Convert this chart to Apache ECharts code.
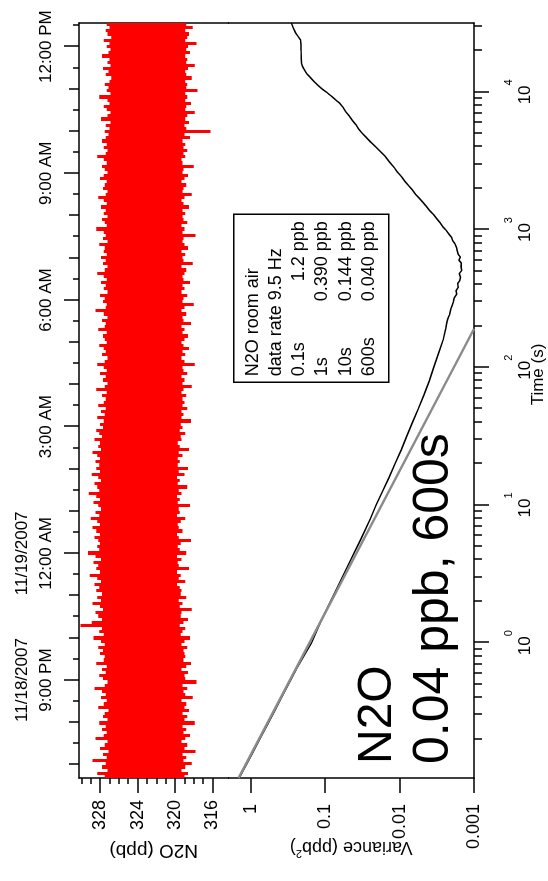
<!DOCTYPE html>
<html>
<head>
<meta charset="utf-8">
<script src="https://cdn.jsdelivr.net/npm/echarts@6/dist/echarts.min.js"></script>
<style>
  html, body { margin: 0; padding: 0; background: #fff; overflow: hidden; width: 548px; height: 881px; }
  /* the landscape figure is turned a quarter turn counter-clockwise onto the portrait page */
  #chart { position: absolute; left: 0; top: 0; width: 881px; height: 548px;
           transform-origin: 0 0; transform: translateY(881px) rotate(-90deg); }
</style>
</head>
<body>
<div id="chart"></div>
<script>
const FONT = 'Liberation Sans, Arial, Helvetica, sans-serif';

// ---- time-of-day axis: hours counted from midnight 11/18/2007 ----
const timeRange = [18.68, 36.56];
const clockTickHours = [21, 24, 27, 30, 33, 36];
const clockTickLabels = ['11/18/2007\n9:00 PM', '11/19/2007\n12:00 AM', '3:00 AM', '6:00 AM', '9:00 AM', '12:00 PM'];

// ---- N2O concentration axis ----
const n2oRange = [314.3, 330.25];
const n2oTickValues = [316, 320, 324, 328];

// ---- Allan variance axes ----
const tauRange = [0.104, 31623];
const tauDecades = [0, 1, 2, 3, 4];
const varianceRange = [0.001, 2];
const varianceDecades = [-3, -2, -1, 0];
const varianceLabels = ['0.001', '0.01', '0.1', '1'];

// ---- N2O record, 9.5 Hz data reduced to per-bin max / min ----
const n2oStartHour = 18.68;
const n2oBinHours = 0.0745;
const n2oMax = [
  327.5, 328.3, 327.2, 327.8, 327.4, 328.8, 327.3, 327.7, 327.1, 328.0, 327.5, 327.2, 328.5, 327.6, 327.3, 327.8, 327.4, 328.1, 327.2, 327.7,
  327.5, 327.1, 328.2, 327.6, 327.3, 327.9, 327.4, 327.8, 328.6, 327.5, 327.2, 327.7, 328.1, 327.4, 327.8, 327.3, 328.4, 327.6, 327.5, 328.0,
  327.7, 328.2, 327.5, 327.9, 328.7, 327.6, 328.1, 327.8, 330.1, 328.9, 327.8, 328.2, 328.5, 327.7, 328.0, 328.8, 327.9, 328.3, 327.8, 328.4,
  328.1, 328.6, 327.9, 328.3, 329.1, 328.0, 328.4, 328.2, 328.7, 327.9, 328.5, 329.3, 328.1, 328.3, 328.0, 328.2, 328.6, 328.0, 328.4, 328.8,
  328.0, 328.3, 329.0, 328.1, 328.5, 327.9, 328.2, 328.7, 328.0, 328.4, 329.2, 328.1, 328.3, 328.6, 327.9, 328.2, 328.9, 328.0, 328.4, 328.1,
  328.5, 328.0, 328.3, 328.8, 327.9, 328.2, 328.0, 328.6, 327.8, 328.1, 328.4, 327.7, 328.0, 327.6, 328.3, 327.5, 327.9, 327.4, 328.2, 327.6,
  327.4, 327.8, 327.3, 328.4, 327.5, 327.2, 327.7, 327.4, 328.0, 327.3, 327.6, 328.3, 327.5, 327.2, 327.8, 327.4, 327.6, 328.1, 327.3, 327.5,
  327.7, 327.3, 328.2, 327.5, 327.4, 327.8, 327.2, 327.6, 328.5, 327.4, 327.3, 327.7, 327.5, 328.0, 327.2, 327.6, 327.4, 327.9, 327.3, 327.6,
  328.3, 327.5, 327.2, 327.7, 327.4, 327.9, 327.3, 327.6, 327.5, 328.1, 327.2, 327.7, 327.4, 327.6, 328.4, 327.3, 327.5, 327.8, 327.2, 327.6,
  327.4, 327.9, 327.3, 327.6, 328.2, 327.4, 327.2, 327.7, 327.5, 327.3, 328.0, 327.6, 327.2, 327.5, 327.8, 327.3, 327.6, 328.3, 327.4, 327.2,
  327.6, 327.3, 327.8, 327.4, 327.1, 327.5, 327.0, 327.4, 326.9, 327.9, 327.2, 326.9, 327.3, 327.6, 327.0, 327.2, 328.1, 326.9, 327.3, 327.1,
  327.5, 327.0, 326.8, 327.4, 327.1, 327.7, 326.9, 327.2, 327.0, 327.8, 327.1, 326.9, 327.3, 327.0, 327.6, 326.8, 327.2, 327.4, 327.0, 327.3
];
const n2oMin = [
  319.0, 318.6, 319.3, 318.9, 318.2, 319.1, 318.8, 319.2, 317.8, 319.0, 318.7, 319.3, 318.9, 318.4, 319.1, 318.8, 319.2, 317.9, 319.0, 318.7,
  319.2, 318.5, 319.0, 318.8, 319.3, 318.1, 318.9, 319.1, 318.7, 319.2, 317.7, 318.9, 319.0, 318.6, 319.3, 318.8, 318.3, 319.1, 318.9, 319.0,
  319.1, 318.7, 319.3, 319.0, 318.4, 319.4, 319.2, 318.9, 319.5, 319.1, 318.6, 319.4, 319.3, 318.2, 319.5, 319.2, 319.6, 318.8, 319.4, 319.3,
  319.5, 319.8, 318.9, 319.6, 319.4, 319.8, 318.5, 319.6, 319.7, 319.3, 319.8, 318.8, 319.5, 319.7, 319.4, 318.3, 319.6, 319.8, 319.2, 319.6,
  319.7, 319.4, 318.9, 319.8, 319.5, 319.6, 318.4, 319.7, 319.5, 319.8, 319.3, 319.6, 318.7, 319.7, 319.5, 319.8, 319.0, 319.6, 318.6, 319.7,
  319.5, 319.7, 319.2, 319.6, 318.5, 319.5, 319.7, 319.3, 319.4, 318.9, 319.5, 319.2, 319.4, 318.3, 319.3, 319.1, 319.3, 318.7, 319.2, 319.0,
  319.2, 318.8, 319.3, 319.1, 318.2, 319.2, 319.0, 319.3, 318.7, 319.1, 319.2, 317.9, 319.0, 319.3, 318.9, 319.2, 318.5, 319.1, 319.3, 319.0,
  318.6, 319.2, 319.0, 319.3, 318.3, 319.1, 319.2, 318.8, 319.3, 319.0, 318.0, 319.2, 319.1, 318.7, 319.3, 319.0, 319.2, 318.4, 319.1, 319.2,
  319.0, 318.8, 319.3, 318.1, 319.1, 319.2, 318.9, 319.3, 318.6, 319.0, 319.2, 319.1, 317.8, 319.2, 319.0, 319.3, 318.7, 319.1, 319.2, 318.9,
  319.2, 318.5, 319.1, 319.3, 319.0, 318.2, 319.2, 319.1, 318.8, 319.3, 319.0, 318.6, 319.2, 319.1, 318.0, 319.2, 319.3, 318.9, 319.1, 318.7,
  319.1, 318.9, 319.2, 318.4, 319.0, 316.2, 318.8, 319.0, 318.5, 318.9, 318.7, 317.9, 318.9, 318.8, 318.3, 318.9, 318.7, 318.9, 317.6, 318.8,
  318.7, 318.9, 318.2, 318.8, 318.9, 318.6, 317.9, 318.8, 318.7, 318.9, 318.4, 318.8, 318.6, 317.7, 318.9, 318.7, 318.5, 318.9, 318.1, 318.8
];

// ---- Allan variance of the record (averaging time in s, variance in ppb^2) ----
const allanTau = [
  0.104, 0.126, 0.158, 0.2, 0.251, 0.316, 0.398, 0.501, 0.631, 0.794,
  1.0, 1.41, 2.0, 2.82, 3.98, 5.62, 7.94, 10, 12.6, 15.8,
  20, 25.1, 31.6, 39.8, 50.1, 63.1, 79.4, 100, 126, 158,
  191, 210, 224, 240, 263, 282, 302, 320, 339, 360,
  380, 405, 427, 450, 479, 505, 537, 570, 600, 630,
  661, 700, 741, 790, 832, 880, 933, 990, 1047, 1120,
  1202, 1290, 1380, 1480, 1585, 1700, 1820, 1950, 2089, 2240,
  2399, 2600, 2818, 3100, 3388, 3680, 3981, 4300, 4677, 5000,
  5370, 5750, 6166, 6700, 7244, 7800, 8318, 8800, 9333, 9900,
  10471, 11100, 11749, 12300, 12882, 13600, 14454, 15300, 16218, 17500,
  19953, 22000, 23768, 25300, 26915, 29000, 31623
];
const allanVar = [
  1.44, 1.18, 0.944, 0.757, 0.605, 0.484, 0.388, 0.310, 0.249, 0.195,
  0.152, 0.1156, 0.0847, 0.0621, 0.0455, 0.0333, 0.0247, 0.0207, 0.0169, 0.0139,
  0.0115, 0.0095, 0.0080, 0.0067, 0.0056, 0.0047, 0.0040, 0.00347, 0.0030, 0.0026,
  0.0024, 0.00232, 0.00225, 0.00214, 0.00206, 0.00196, 0.00188, 0.00184, 0.00171, 0.00174,
  0.00163, 0.00166, 0.00155, 0.00152, 0.00158, 0.00146, 0.00150, 0.00148, 0.00160, 0.00152,
  0.00163, 0.00168, 0.00172, 0.00181, 0.00194, 0.00201, 0.00219, 0.00238, 0.00262, 0.00285,
  0.00318, 0.00352, 0.00398, 0.00440, 0.0049, 0.0055, 0.0062, 0.0068, 0.0076, 0.0085,
  0.0093, 0.0106, 0.0118, 0.0137, 0.0155, 0.0181, 0.0209, 0.0243, 0.0282, 0.0318,
  0.0355, 0.0385, 0.0427, 0.0478, 0.0537, 0.0585, 0.0646, 0.0735, 0.0832, 0.0950,
  0.1096, 0.1240, 0.138, 0.150, 0.162, 0.178, 0.190, 0.202, 0.209, 0.210,
  0.211, 0.212, 0.214, 0.232, 0.251, 0.268, 0.285
];

// ---- white-noise reference line ----
const whiteTau = [0.104, 190];
const whiteVar = [1.46, 0.001];

// ---- annotations ----
const noteRows = [
  ['N2O room air', ''],
  ['data rate 9.5 Hz', ''],
  ['0.1s', '1.2 ppb'],
  ['1s', '0.390 ppb'],
  ['10s', '0.144 ppb'],
  ['600s', '0.040 ppb']
];
const headline = ['N2O', '0.04 ppb, 600s'];

// ---- derived tick lists ----
const halfHourTicks = [], hourTicks = [];
for (let h = 19; h <= 36.5; h += 0.5) {
  if (clockTickHours.indexOf(h) >= 0) continue;
  (Number.isInteger(h) ? hourTicks : halfHourTicks).push(h);
}
const n2oMinorTicks = [];
for (let v = 316; v <= 330; v++) n2oMinorTicks.push(v);
const logTauRange = [Math.log10(tauRange[0]), Math.log10(tauRange[1])];
const tauMinorTicks = [];
for (let k = -1; k <= 4; k++) {
  for (let m = 2; m <= 9; m++) {
    const lv = Math.log10(m) + k;
    if (lv > logTauRange[0] && lv < logTauRange[1]) tauMinorTicks.push(lv);
  }
}

// ---- series data ----
const n2oBins = n2oMax.map((hi, i) => [n2oStartHour + (i + 0.5) * n2oBinHours, n2oMin[i], hi]);
const allanPts = allanTau.map((t, i) => [t, allanVar[i]]);
const whitePts = whiteTau.map((t, i) => [t, whiteVar[i]]);

// ---- styling helpers ----
const INK = '#000';
const RED = '#ff0000';
const FS = 17;
const axisLineStyle = { color: INK, width: 1.5 };

function tickOnly(base, values, length) {
  return Object.assign({
    axisLine: { show: false, onZero: false },
    axisTick: { show: true, inside: false, length: length, customValues: values, lineStyle: axisLineStyle },
    axisLabel: { show: false },
    splitLine: { show: false }
  }, base);
}
function lineOnly(base) {
  return Object.assign({
    axisLine: { show: true, onZero: false, lineStyle: axisLineStyle },
    axisTick: { show: false },
    axisLabel: { show: false },
    splitLine: { show: false }
  }, base);
}

const chart = echarts.init(document.getElementById('chart'), null, { renderer: 'canvas', width: 881, height: 548 });

const noteTop = 233, noteLeft = 498, noteW = 168, noteH = 155, noteLine = 23.2, noteFS = 18;
const noteChildren = [{
  type: 'rect',
  shape: { x: 0, y: 0, width: noteW, height: noteH },
  style: { fill: '#fff', stroke: INK, lineWidth: 1.5 }
}];
noteRows.forEach((row, i) => {
  const y = 19 + i * noteLine;
  noteChildren.push({ type: 'text', x: 6, y: y,
    style: { text: row[0], align: 'left', verticalAlign: 'middle', fill: INK, fontFamily: FONT, fontSize: noteFS } });
  if (row[1]) {
    noteChildren.push({ type: 'text', x: noteW - 7, y: y,
      style: { text: row[1], align: 'right', verticalAlign: 'middle', fill: INK, fontFamily: FONT, fontSize: noteFS } });
  }
});

chart.setOption({
  animation: false,
  backgroundColor: '#fff',
  textStyle: { fontFamily: FONT, fontSize: FS, color: INK },
  grid: [
    { left: 103, top: 79, width: 755, height: 149.4 },
    { left: 103, top: 228.4, width: 755, height: 247.6 }
  ],
  xAxis: [
    {
      gridIndex: 0, type: 'value', position: 'top', min: timeRange[0], max: timeRange[1],
      axisLine: { show: true, onZero: false, lineStyle: axisLineStyle },
      axisTick: { show: true, length: 15, customValues: clockTickHours, lineStyle: axisLineStyle },
      axisLabel: {
        show: true, customValues: clockTickHours, margin: 21, lineHeight: 24,
        color: INK, fontFamily: FONT, fontSize: FS,
        formatter: v => clockTickLabels[clockTickHours.indexOf(v)] || ''
      },
      splitLine: { show: false }
    },
    tickOnly({ gridIndex: 0, type: 'value', position: 'top', min: timeRange[0], max: timeRange[1] }, hourTicks, 10),
    tickOnly({ gridIndex: 0, type: 'value', position: 'top', min: timeRange[0], max: timeRange[1] }, halfHourTicks, 6),
    lineOnly({
      gridIndex: 1, type: 'log', position: 'bottom', min: tauRange[0], max: tauRange[1],
      name: 'Time (s)', nameLocation: 'middle', nameGap: 56,
      nameTextStyle: { color: INK, fontFamily: FONT, fontSize: FS, padding: [0, 0, 0, 52] }
    }),
    {
      gridIndex: 1, type: 'value', position: 'bottom', min: logTauRange[0], max: logTauRange[1],
      axisLine: { show: false, onZero: false },
      axisTick: { show: true, length: 15, customValues: tauDecades, lineStyle: axisLineStyle },
      axisLabel: {
        show: true, customValues: tauDecades, margin: 35, fontSize: FS, fontFamily: FONT, color: INK,
        formatter: v => '{b|10}{s|' + v + '}',
        rich: {
          b: { fontSize: FS, lineHeight: FS, fontFamily: FONT, color: INK, padding: [16, 0, 0, 0] },
          s: { fontSize: 11, lineHeight: 11, fontFamily: FONT, color: INK, padding: [0, 0, 18, 0] }
        }
      },
      splitLine: { show: false }
    },
    tickOnly({ gridIndex: 1, type: 'value', position: 'bottom', min: logTauRange[0], max: logTauRange[1] }, tauMinorTicks, 8)
  ],
  yAxis: [
    {
      gridIndex: 0, type: 'value', position: 'left', min: n2oRange[0], max: n2oRange[1],
      axisLine: { show: true, onZero: false, lineStyle: axisLineStyle },
      axisTick: { show: true, length: 15, customValues: n2oTickValues, lineStyle: axisLineStyle },
      axisLabel: { show: true, customValues: n2oTickValues, margin: 22, color: INK, fontFamily: FONT, fontSize: 18 },
      splitLine: { show: false },
      name: 'N2O (ppb)', nameLocation: 'middle', nameGap: 62,
      nameTextStyle: { color: INK, fontFamily: FONT, fontSize: 19 }
    },
    tickOnly({ gridIndex: 0, type: 'value', position: 'left', min: n2oRange[0], max: n2oRange[1] }, n2oMinorTicks, 6),
    lineOnly({ gridIndex: 0, type: 'value', position: 'right', min: n2oRange[0], max: n2oRange[1] }),
    lineOnly({ gridIndex: 1, type: 'log', position: 'left', min: varianceRange[0], max: varianceRange[1] }),
    {
      gridIndex: 1, type: 'value', position: 'left', min: -3, max: Math.log10(varianceRange[1]),
      axisLine: { show: false, onZero: false },
      axisTick: { show: true, length: 15, customValues: varianceDecades, lineStyle: axisLineStyle },
      axisLabel: {
        show: true, customValues: varianceDecades, margin: 26, color: INK, fontFamily: FONT, fontSize: 18,
        formatter: v => varianceLabels[varianceDecades.indexOf(v)] || ''
      },
      splitLine: { show: false },
      name: 'Variance (ppb{s|2})', nameLocation: 'middle', nameGap: 60, nameMoveOverlap: false,
      nameTextStyle: {
        color: INK, fontFamily: FONT, fontSize: 18,
        rich: { s: { fontSize: 11, lineHeight: 11, fontFamily: FONT, color: INK, padding: [0, 0, 12, 0] } }
      }
    },
    lineOnly({ gridIndex: 1, type: 'log', position: 'right', min: varianceRange[0], max: varianceRange[1] })
  ],
  graphic: [
    { type: 'group', left: noteLeft, top: noteTop, children: noteChildren },
    { type: 'text', x: 117, y: 377.5,
      style: { text: headline[0], fontFamily: FONT, fontSize: 48, fill: INK, verticalAlign: 'middle' } },
    { type: 'text', x: 117, y: 434.5,
      style: { text: headline[1], fontFamily: FONT, fontSize: 50, fill: INK, verticalAlign: 'middle' } }
  ],
  series: [
    {
      name: 'N2O', type: 'custom', xAxisIndex: 0, yAxisIndex: 0, data: n2oBins,
      encode: { x: 0, y: [1, 2] }, clip: true, silent: true,
      renderItem: (params, api) => {
        const t = api.value(0);
        const a = api.coord([t - n2oBinHours / 2, api.value(2)]);
        const b = api.coord([t + n2oBinHours / 2, api.value(1)]);
        // snap the bin edges to whole pixels so neighbouring bins butt together without seams
        const x0 = Math.round(a[0]), x1 = Math.round(b[0]);
        return {
          type: 'rect',
          shape: { x: x0, y: a[1], width: x1 - x0, height: b[1] - a[1] },
          style: { fill: RED }
        };
      }
    },
    {
      name: 'Allan variance', type: 'line', xAxisIndex: 3, yAxisIndex: 3, data: allanPts,
      symbol: 'none', silent: true, lineStyle: { color: INK, width: 1.5 }, z: 3
    },
    {
      name: 'white noise', type: 'line', xAxisIndex: 3, yAxisIndex: 3, data: whitePts,
      symbol: 'none', silent: true, lineStyle: { color: '#8a8a8a', width: 2.5 }, z: 4
    }
  ]
});
</script>
</body>
</html>
